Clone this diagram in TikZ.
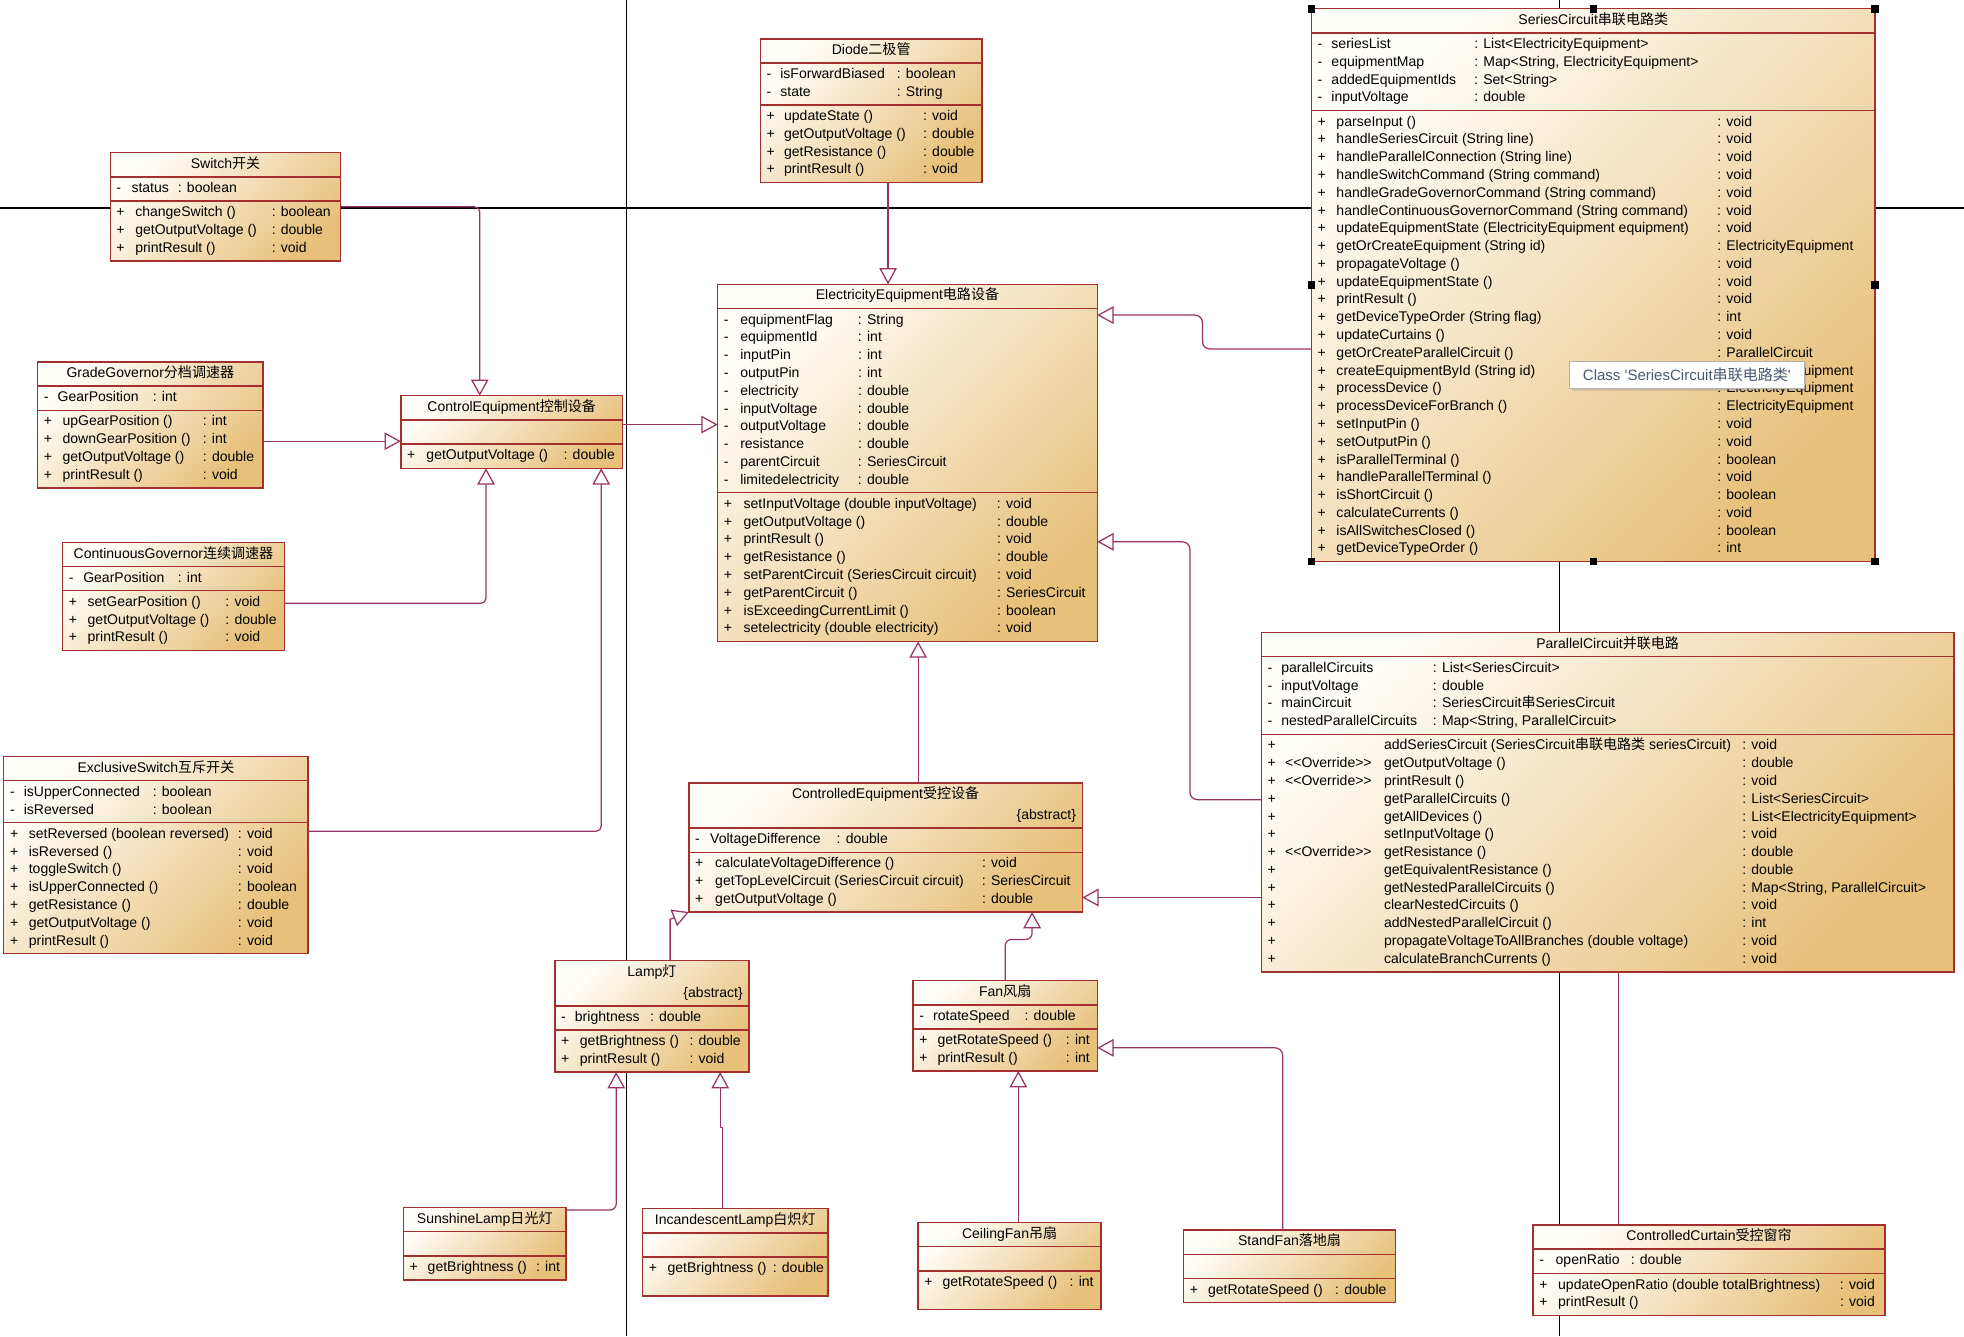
\documentclass[tikz,border=0pt]{standalone}
\usepackage{fontspec}
\setmainfont{Liberation Sans}
\newfontfamily\cjk{Noto Sans CJK SC}
\usepackage{tikz}
\usetikzlibrary{arrows.meta,positioning,shapes.multipart,shadows}
\definecolor{clslight}{HTML}{FFFDF8}
\definecolor{clsdark}{HTML}{E7C07A}
\definecolor{clsline}{HTML}{A3302E}
\definecolor{genline}{HTML}{993366}
\definecolor{tiptext}{HTML}{4A5A72}
\newcommand{\zh}[1]{{\cjk #1}}
\newlength{\visw}\newlength{\namew}\newlength{\stw}
\newcommand{\cols}[2]{\setlength{\visw}{#1pt}\setlength{\namew}{#2pt}}
\newcommand{\mb}[3]{\hbox to\hsize{\strut\hbox to\visw{#1\hss}\hbox to\namew{#2\hss}#3\hss}}
\newcommand{\mbs}[4]{\hbox to\hsize{\strut\hbox to\visw{#1\hss}\hbox to\stw{#2\hss}\hbox to\namew{#3\hss}#4\hss}}
\newcommand{\ovr}{<{}<Override>{}>}
\newcommand{\umlcls}[6]{\node[umlclass] (#1) at (#2) {\parbox{#3pt}{\centering\strut#4}\nodepart{two}\parbox{#3pt}{#5}\nodepart{three}\parbox{#3pt}{#6}};}
\newcommand{\abs}{\par\vspace{2.6pt}\raggedleft\strut\{abstract\}}
\tikzset{
  umlclass/.style={rectangle split, rectangle split parts=3, draw=clsline, line width=1.1pt,
    left color=clslight, right color=clsdark, shading angle=45,
    inner xsep=5pt, inner ysep=2pt, outer sep=0pt, anchor=north west,
    font=\fontsize{11.2}{14.2}\selectfont},
  gen/.style={draw=genline, line width=1pt, -{Triangle[length=13pt, width=14pt, fill=white]}},
  pagesep/.style={black, line width=1pt},
  handle/.style={fill=black, minimum size=6pt, inner sep=0pt, outer sep=0pt},
  tipbox/.style={draw=black!30, fill=white, anchor=north west, minimum width=187pt, minimum height=22pt,
    inner xsep=4pt, text=tiptext, font=\fontsize{12}{14}\selectfont,
    drop shadow={shadow xshift=2pt, shadow yshift=-2pt, opacity=0.25}}
}

\begin{document}
\begin{tikzpicture}[x=1pt,y=-1pt]
\useasboundingbox (0,0) rectangle (1568,1067);
\fill[white] (0,0) rectangle (1568,1067);
% page borders
\draw[pagesep] (0,166) -- (1568,166);
\draw[pagesep] (500,0) -- (500,1067);
\draw[pagesep] (1245,0) -- (1245,1067);

\umlcls{switchC}{88,122}{174}{Switch\zh{开关}}
{\cols{12}{37}\mb{-}{status}{: boolean}}
{\cols{15}{109}%
\mb{+}{changeSwitch ()}{: boolean}%
\mb{+}{getOutputVoltage ()}{: double}%
\mb{+}{printResult ()}{: void}}

\umlcls{gradeGov}{30,289}{170}{GradeGovernor\zh{分档调速器}}
{\cols{11}{76}\mb{-}{GearPosition}{: int}}
{\cols{15}{112}%
\mb{+}{upGearPosition ()}{: int}%
\mb{+}{downGearPosition ()}{: int}%
\mb{+}{getOutputVoltage ()}{: double}%
\mb{+}{printResult ()}{: void}}

\umlcls{contGov}{50,433}{167}{ContinuousGovernor\zh{连续调速器}}
{\cols{11.5}{75.5}\mb{-}{GearPosition}{: int}}
{\cols{15}{110}%
\mb{+}{setGearPosition ()}{: void}%
\mb{+}{getOutputVoltage ()}{: double}%
\mb{+}{printResult ()}{: void}}

\umlcls{ctrlEq}{320,316}{167}{ControlEquipment\zh{控制设备}}
{\strut}
{\cols{15.5}{109.5}\mb{+}{getOutputVoltage ()}{: double}}

\umlcls{exclSw}{3,604}{233}{ExclusiveSwitch\zh{互斥开关}}
{\cols{11}{103}%
\mb{-}{isUpperConnected}{: boolean}%
\mb{-}{isReversed}{: boolean}}
{\cols{15}{167}%
\mb{+}{setReversed (boolean reversed)}{: void}%
\mb{+}{isReversed ()}{: void}%
\mb{+}{toggleSwitch ()}{: void}%
\mb{+}{isUpperConnected ()}{: boolean}%
\mb{+}{getResistance ()}{: double}%
\mb{+}{getOutputVoltage ()}{: void}%
\mb{+}{printResult ()}{: void}}

\umlcls{diode}{607,31}{167}{Diode\zh{二极管}}
{\cols{11}{93}%
\mb{-}{isForwardBiased}{: boolean}%
\mb{-}{state}{: String}}
{\cols{14}{111}%
\mb{+}{updateState ()}{: void}%
\mb{+}{getOutputVoltage ()}{: double}%
\mb{+}{getResistance ()}{: double}%
\mb{+}{printResult ()}{: void}}

\umlcls{elecEq}{573,227}{293}{ElectricityEquipment\zh{电路设备}}
{\cols{13}{94}%
\mb{-}{equipmentFlag}{: String}%
\mb{-}{equipmentId}{: int}%
\mb{-}{inputPin}{: int}%
\mb{-}{outputPin}{: int}%
\mb{-}{electricity}{: double}%
\mb{-}{inputVoltage}{: double}%
\mb{-}{outputVoltage}{: double}%
\mb{-}{resistance}{: double}%
\mb{-}{parentCircuit}{: SeriesCircuit}%
\mb{-}{limitedelectricity}{: double}}
{\cols{15.7}{202.3}%
\mb{+}{setInputVoltage (double inputVoltage)}{: void}%
\mb{+}{getOutputVoltage ()}{: double}%
\mb{+}{printResult ()}{: void}%
\mb{+}{getResistance ()}{: double}%
\mb{+}{setParentCircuit (SeriesCircuit circuit)}{: void}%
\mb{+}{getParentCircuit ()}{: SeriesCircuit}%
\mb{+}{isExceedingCurrentLimit ()}{: boolean}%
\mb{+}{setelectricity (double electricity)}{: void}}

\umlcls{seriesC}{1047,7}{440}{SeriesCircuit\zh{串联电路类}}
{\cols{11}{114}%
\mb{-}{seriesList}{: List<ElectricityEquipment>}%
\mb{-}{equipmentMap}{: Map<String, ElectricityEquipment>}%
\mb{-}{addedEquipmentIds}{: Set<String>}%
\mb{-}{inputVoltage}{: double}}
{\cols{15}{304}%
\mb{+}{parseInput ()}{: void}%
\mb{+}{handleSeriesCircuit (String line)}{: void}%
\mb{+}{handleParallelConnection (String line)}{: void}%
\mb{+}{handleSwitchCommand (String command)}{: void}%
\mb{+}{handleGradeGovernorCommand (String command)}{: void}%
\mb{+}{handleContinuousGovernorCommand (String command)}{: void}%
\mb{+}{updateEquipmentState (ElectricityEquipment equipment)}{: void}%
\mb{+}{getOrCreateEquipment (String id)}{: ElectricityEquipment}%
\mb{+}{propagateVoltage ()}{: void}%
\mb{+}{updateEquipmentState ()}{: void}%
\mb{+}{printResult ()}{: void}%
\mb{+}{getDeviceTypeOrder (String flag)}{: int}%
\mb{+}{updateCurtains ()}{: void}%
\mb{+}{getOrCreateParallelCircuit ()}{: ParallelCircuit}%
\mb{+}{createEquipmentById (String id)}{: ElectricityEquipment}%
\mb{+}{processDevice ()}{: ElectricityEquipment}%
\mb{+}{processDeviceForBranch ()}{: ElectricityEquipment}%
\mb{+}{setInputPin ()}{: void}%
\mb{+}{setOutputPin ()}{: void}%
\mb{+}{isParallelTerminal ()}{: boolean}%
\mb{+}{handleParallelTerminal ()}{: void}%
\mb{+}{isShortCircuit ()}{: boolean}%
\mb{+}{calculateCurrents ()}{: void}%
\mb{+}{isAllSwitchesClosed ()}{: boolean}%
\mb{+}{getDeviceTypeOrder ()}{: int}}
\foreach \a [count=\i] in {north west,north,north east,west,east,south west,south,south east}
  \node[handle] (hd\i) at (seriesC.\a) {};

\umlcls{ctrldEq}{550,625}{304}{ControlledEquipment\zh{受控设备}\abs}
{\cols{12}{101}\mb{-}{VoltageDifference}{: double}}
{\cols{16}{213}%
\mb{+}{calculateVoltageDifference ()}{: void}%
\mb{+}{getTopLevelCircuit (SeriesCircuit circuit)}{: SeriesCircuit}%
\mb{+}{getOutputVoltage ()}{: double}}

\umlcls{lamp}{443,767}{145}{Lamp\zh{灯}\abs}
{\cols{11}{60}\mb{-}{brightness}{: double}}
{\cols{15}{87.5}%
\mb{+}{getBrightness ()}{: double}%
\mb{+}{printResult ()}{: void}}

\umlcls{fan}{729,783}{137}{Fan\zh{风扇}}
{\cols{11}{73}\mb{-}{rotateSpeed}{: double}}
{\cols{14.5}{102.5}%
\mb{+}{getRotateSpeed ()}{: int}%
\mb{+}{printResult ()}{: int}}

\umlcls{sunLamp}{322,964}{120}{SunshineLamp\zh{日光灯}}
{\strut}
{\cols{14.5}{86.5}\mb{+}{getBrightness ()}{: int}}

\umlcls{incLamp}{513,965}{138}{IncandescentLamp\zh{白炽灯}}
{\strut}
{\cols{15}{84}\mb{+}{getBrightness ()}{: double}\vskip11.8pt}

\umlcls{ceilFan}{733,976}{136}{CeilingFan\zh{吊扇}}
{\strut}
{\cols{14.5}{101.5}\mb{+}{getRotateSpeed ()}{: int}\vskip11.8pt}

\umlcls{standFan}{945,982}{159}{StandFan\zh{落地扇}}
{\strut}
{\cols{14.5}{101.5}\mb{+}{getRotateSpeed ()}{: double}}

\umlcls{curtain}{1224,978}{271}{ControlledCurtain\zh{受控窗帘}}
{\cols{13}{60}\mb{-}{openRatio}{: double}}
{\cols{15}{225}%
\mb{+}{updateOpenRatio (double totalBrightness)}{: void}%
\mb{+}{printResult ()}{: void}}

% curtain line runs behind the parallel circuit box
\draw[gen] ([xshift=-72.5pt]curtain.north) |- ([yshift=-40pt]ctrldEq.east);

\umlcls{parallelC}{1007,505}{543}{ParallelCircuit\zh{并联电路}}
{\cols{11}{121}%
\mb{-}{parallelCircuits}{: List<SeriesCircuit>}%
\mb{-}{inputVoltage}{: double}%
\mb{-}{mainCircuit}{: SeriesCircuit\zh{串}SeriesCircuit}%
\mb{-}{nestedParallelCircuits}{: Map<String, ParallelCircuit>}}
{\setlength{\visw}{14pt}\setlength{\stw}{79pt}\setlength{\namew}{286pt}%
\mbs{+}{}{addSeriesCircuit (SeriesCircuit\zh{串联电路类} seriesCircuit)}{: void}%
\mbs{+}{\ovr}{getOutputVoltage ()}{: double}%
\mbs{+}{\ovr}{printResult ()}{: void}%
\mbs{+}{}{getParallelCircuits ()}{: List<SeriesCircuit>}%
\mbs{+}{}{getAllDevices ()}{: List<ElectricityEquipment>}%
\mbs{+}{}{setInputVoltage ()}{: void}%
\mbs{+}{\ovr}{getResistance ()}{: double}%
\mbs{+}{}{getEquivalentResistance ()}{: double}%
\mbs{+}{}{getNestedParallelCircuits ()}{: Map<String, ParallelCircuit>}%
\mbs{+}{}{clearNestedCircuits ()}{: void}%
\mbs{+}{}{addNestedParallelCircuit ()}{: int}%
\mbs{+}{}{propagateVoltageToAllBranches (double voltage)}{: void}%
\mbs{+}{}{calculateBranchCurrents ()}{: void}}

% generalizations
\draw[gen, rounded corners=4pt] (switchC.east) -| ([xshift=-25.5pt]ctrlEq.north);
\coordinate (ggOut) at ([yshift=-13pt]gradeGov.east);
\draw[gen] (ggOut) -- (ggOut -| ctrlEq.west);
\draw[gen, rounded corners=4pt] ([yshift=-5.5pt]contGov.east) -| ([xshift=-20.5pt]ctrlEq.south);
\draw[gen, rounded corners=4pt] ([yshift=19pt]exclSw.east) -| ([xshift=71.5pt]ctrlEq.south);
\coordinate (ceOut) at ([yshift=6pt]ctrlEq.east);
\draw[gen] (ceOut) -- (ceOut -| elecEq.west);
\coordinate (dOut) at ([xshift=13.5pt]diode.south);
\draw[gen] (dOut) -- (dOut |- elecEq.north);
\draw[gen, rounded corners=6pt] ([yshift=-51pt]seriesC.west) -- ++(-87,0) |- ([yshift=118pt]elecEq.east);
\draw[gen, rounded corners=6pt] ([yshift=2pt]parallelC.west) -- ++(-57,0) |- ([yshift=-63pt]elecEq.east);
\coordinate (cqOut) at ([xshift=26pt]ctrldEq.north);
\draw[gen] (cqOut) -- (cqOut |- elecEq.south);
\draw[gen] ([xshift=14.5pt]lamp.north) -- ++(0,-33) -- (ctrldEq.south west);
\draw[gen, rounded corners=5pt] (fan.north) -- ++(0,-33) -| ([xshift=117pt]ctrldEq.south);
\draw[gen, rounded corners=5pt] ([yshift=-2pt]sunLamp.north east) -| ([xshift=-28.5pt]lamp.south);
\draw[gen] ([xshift=-10pt]incLamp.north) -- ++(0,-65) -| ([xshift=54.5pt]lamp.south);
\coordinate (cfOut) at ([xshift=7pt]ceilFan.north);
\draw[gen] (cfOut) -- (cfOut |- fan.south);
\draw[gen, rounded corners=6pt] ([xshift=-5.5pt]standFan.north) |- ([yshift=-17.5pt]fan.east);

\node[tipbox] (tip) at (1253,288) {Class \textquotesingle SeriesCircuit\zh{串联电路类}\textquotesingle};
\end{tikzpicture}
\end{document}
